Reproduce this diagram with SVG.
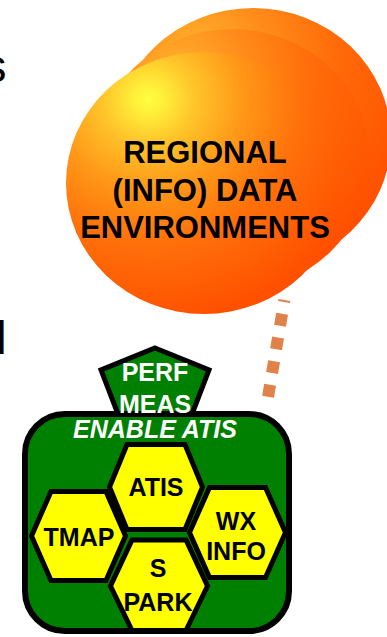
<svg xmlns="http://www.w3.org/2000/svg" width="387" height="637" viewBox="0 0 387 637">
  <defs>
    <radialGradient id="sun" cx="0.3" cy="0.18" fx="0.3" fy="0.18" r="0.85">
      <stop offset="0" stop-color="#ffff40"/>
      <stop offset="0.06" stop-color="#fff03a"/>
      <stop offset="0.2" stop-color="#ffc42a"/>
      <stop offset="0.4" stop-color="#ff9818"/>
      <stop offset="0.65" stop-color="#ff700a"/>
      <stop offset="1" stop-color="#ff5000"/>
    </radialGradient>
    <radialGradient id="sunBack" cx="0.3" cy="0.18" fx="0.3" fy="0.18" r="0.85">
      <stop offset="0" stop-color="#ffb430"/>
      <stop offset="0.3" stop-color="#ff8c1a"/>
      <stop offset="0.6" stop-color="#ff6a08"/>
      <stop offset="1" stop-color="#ff5000"/>
    </radialGradient>
  </defs>
  <style>
    .bg { fill: #ffffff; }
    .edge { font-family: "Liberation Sans", Arial, sans-serif; font-size: 47px; fill: #000000; }
    .blob { fill: url(#sun); }
    .blob-back { fill: url(#sunBack); }
    .title { font-family: "Liberation Sans", Arial, sans-serif; font-weight: bold; font-size: 31px; fill: #000000; text-anchor: middle; }
    .green { fill: #008000; stroke: #000000; stroke-width: 6; stroke-linejoin: miter; }
    .hex { fill: #ffff00; stroke: #000000; stroke-width: 5; stroke-linejoin: miter; }
    .wlabel { font-family: "Liberation Sans", Arial, sans-serif; font-weight: bold; font-size: 25px; fill: #ffffff; text-anchor: middle; }
    .blabel { font-family: "Liberation Sans", Arial, sans-serif; font-weight: bold; font-size: 25px; fill: #000000; text-anchor: middle; }
    .dots { fill: none; stroke: #e0824a; stroke-width: 12; stroke-dasharray: 12 12; stroke-dashoffset: 10; }
  </style>

  <rect class="bg" x="0" y="0" width="387" height="637"/>

  <!-- text running in from the left edge -->
  <text class="edge" x="6.5" y="82" text-anchor="end">s</text>
  <text class="edge" x="6.6" y="354" text-anchor="end">l</text>

  <!-- dotted connector -->
  <g id="connectors">
    <line class="dots" x1="284.4" y1="300" x2="268" y2="397"/>
  </g>

  <!-- stacked data environment discs -->
  <g id="regional-data">
    <ellipse class="blob-back" cx="253" cy="139" rx="138" ry="131"/>
    <ellipse class="blob-back" cx="232" cy="160" rx="138" ry="131"/>
    <ellipse class="blob" cx="204" cy="183" rx="138" ry="131"/>
    <text class="title" x="205" y="163">REGIONAL</text>
    <text class="title" x="205" y="201">(INFO) DATA</text>
    <text class="title" x="205" y="238">ENVIRONMENTS</text>
  </g>

  <!-- performance measurement pentagon -->
  <g id="perf-meas">
    <polygon class="green" points="155,348 209,370 189,422 121,422 101,370" style="stroke-width:5"/>
  </g>

  <!-- enabling container -->
  <g id="enable-atis">
    <rect class="green" x="25" y="414" width="264" height="217" rx="40" ry="40"/>
    <text class="wlabel" x="155" y="438" font-style="italic">ENABLE ATIS</text>
  </g>

  <g id="perf-meas-label">
    <text class="wlabel" x="155" y="381">PERF</text>
    <text class="wlabel" x="155" y="413">MEAS</text>
  </g>

  <!-- honeycomb of services -->
  <g id="atis">
    <polygon class="hex" points="127,444.5 185,444.5 202.5,487 185,529.5 127,529.5 109.5,487"/>
    <text class="blabel" x="156" y="496">ATIS</text>
  </g>
  <g id="tmap">
    <polygon class="hex" points="51,491.5 106,491.5 125.5,536 106,580.5 51,580.5 31.5,536"/>
    <text class="blabel" x="79" y="546">TMAP</text>
  </g>
  <g id="wx-info">
    <polygon class="hex" points="209.5,487.5 265.5,487.5 285.5,532.5 265.5,577.5 209.5,577.5 189.5,532.5"/>
    <text class="blabel" x="236" y="530">WX</text>
    <text class="blabel" x="236" y="560">INFO</text>
  </g>
  <g id="s-park">
    <polygon class="hex" points="132,540 186,540 207.5,586 186,630.5 132,630.5 110.5,586"/>
    <text class="blabel" x="158" y="577">S</text>
    <text class="blabel" x="158" y="611">PARK</text>
  </g>
</svg>
